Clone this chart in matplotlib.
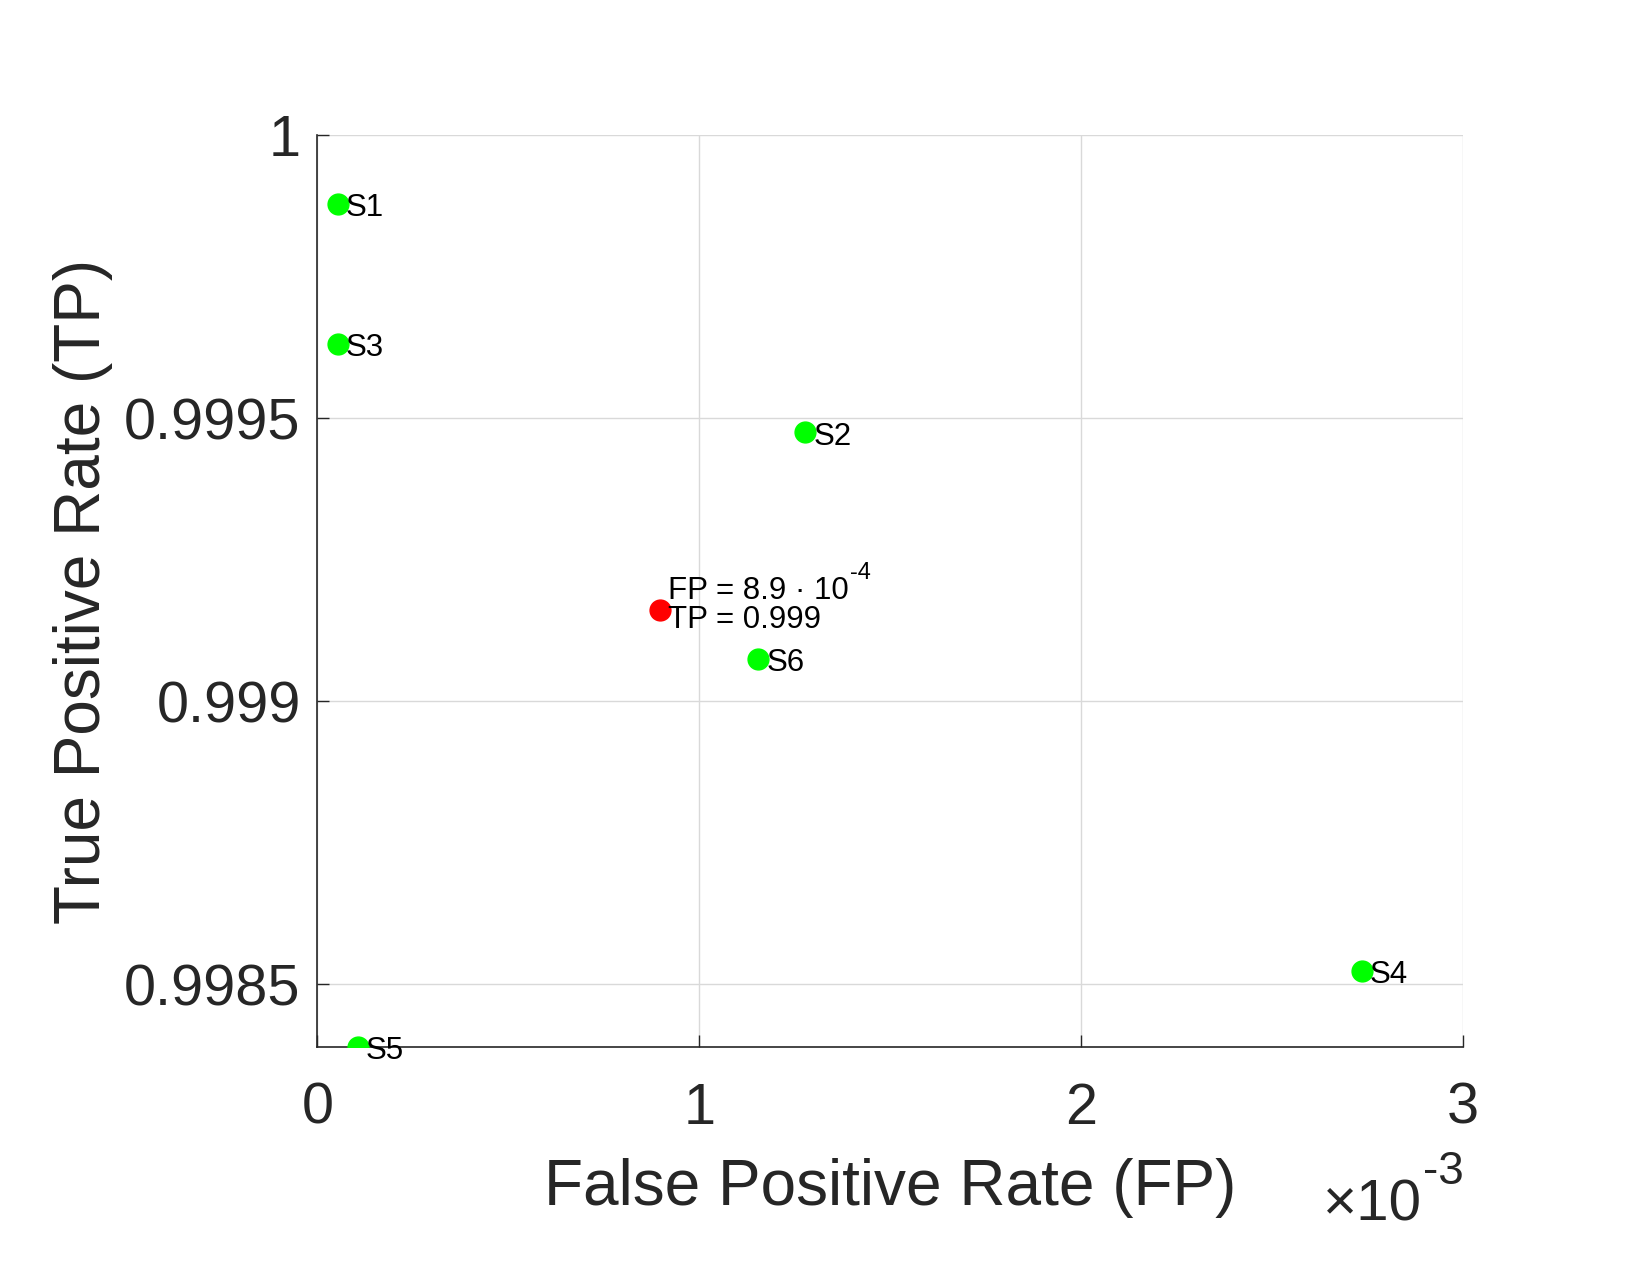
import matplotlib.pyplot as plt
import numpy as np

plt.rcParams['font.family'] = ['Liberation Sans', 'DejaVu Sans']

# data
names = ['S1', 'S2', 'S3', 'S4', 'S5', 'S6']
fp = [5.3e-5, 1.277e-3, 5.3e-5, 2.734e-3, 1.06e-4, 1.154e-3]
tp = [0.999878, 0.999475, 0.999631, 0.998524, 0.998389, 0.999075]

best_fp = 8.97e-4
best_tp = 0.999161
best_line1 = 'FP = 8.9 \u00b7 10'
best_exp = '-4'
best_line2 = 'TP = 0.999'

x_ticks = [0, 1e-3, 2e-3, 3e-3]
x_tick_labels = ['0', '1', '2', '3']
y_ticks = [0.9985, 0.999, 0.9995, 1.0]
y_tick_labels = ['0.9985', '0.999', '0.9995', '1']

dark = (0.15, 0.15, 0.15)

fig = plt.figure(figsize=(16.5, 12.75), dpi=100)
ax = fig.add_axes([0.1923, 0.1788, 0.6945, 0.7151])

ax.plot(fp, tp, 'o', color=(0, 1, 0), ms=15, ls='none', zorder=3)
ax.plot([best_fp], [best_tp], 'o', color=(1, 0, 0), ms=15, ls='none', zorder=3)

for name, x, y in zip(names, fp, tp):
    ax.annotate(name, (x, y), xytext=(6, -3), textcoords='offset points',
                fontsize=22.5, va='center', ha='left', color='black',
                annotation_clip=False, zorder=4)

# two-line label of the chosen point
l1 = ax.annotate(best_line1, (best_fp, best_tp), xytext=(6, 14), textcoords='offset points',
                 fontsize=22.5, va='center', ha='left', color='black', zorder=4)
ax.annotate(best_exp, xy=(1, 0.72), xycoords=l1, xytext=(1, 0), textcoords='offset points',
            fontsize=17, va='bottom', ha='left', color='black', zorder=4)
ax.annotate(best_line2, (best_fp, best_tp), xytext=(6, -7), textcoords='offset points',
            fontsize=22.5, va='center', ha='left', color='black', zorder=4)

ax.set_xlim(0, 3e-3)
ax.set_ylim(min(tp), 1.0)
ax.set_xticks(x_ticks)
ax.set_xticklabels(x_tick_labels)
ax.set_yticks(y_ticks)
ax.set_yticklabels(y_tick_labels)

ax.grid(True, color=(0.85, 0.85, 0.85), lw=1)
ax.set_axisbelow(True)
for side in ['top', 'right']:
    ax.spines[side].set_visible(False)
for side in ['left', 'bottom']:
    ax.spines[side].set_color(dark)
    ax.spines[side].set_linewidth(1.2)

ax.tick_params(direction='in', length=8.6, width=1, colors=dark, labelsize=41.5)
ax.tick_params(axis='x', pad=25)
ax.tick_params(axis='y', pad=12)

ax.set_xlabel('False Positive Rate (FP)', fontsize=46, color=dark, labelpad=16)
ax.set_ylabel('True Positive Rate (TP)', fontsize=46, color=dark, labelpad=8)

# axis multiplier at the lower right
mult = ax.annotate('\u00d710', xy=(1.0, -0.19), xycoords='axes fraction',
                   xytext=(-30, 0), textcoords='offset points',
                   fontsize=42, color=dark, ha='right', va='baseline')
ax.annotate('-3', xy=(1, 0.7), xycoords=mult, xytext=(1, 0), textcoords='offset points',
            fontsize=33, color=dark, ha='left', va='bottom')

fig.savefig('out.png', dpi=100)
